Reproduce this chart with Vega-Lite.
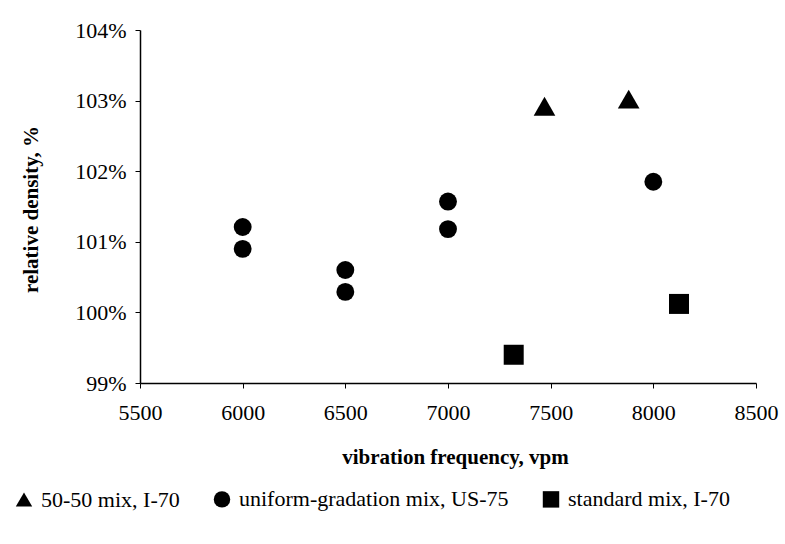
{
  "$schema": "https://vega.github.io/schema/vega-lite/v6.json",
  "width": 616,
  "height": 353,
  "autosize": "none",
  "padding": {"left": 140, "top": 30, "right": 29, "bottom": 161},
  "background": "white",
  "config": {
    "view": {"stroke": null},
    "font": "Liberation Serif"
  },
  "data": {
    "values": [
      {"series": "50-50 mix, I-70", "frequency": 7470, "density": 102.92},
      {"series": "50-50 mix, I-70", "frequency": 7880, "density": 103.02},
      {"series": "uniform-gradation mix, US-75", "frequency": 6000, "density": 101.21},
      {"series": "uniform-gradation mix, US-75", "frequency": 6000, "density": 100.9},
      {"series": "uniform-gradation mix, US-75", "frequency": 6500, "density": 100.6},
      {"series": "uniform-gradation mix, US-75", "frequency": 6500, "density": 100.29},
      {"series": "uniform-gradation mix, US-75", "frequency": 7000, "density": 101.57},
      {"series": "uniform-gradation mix, US-75", "frequency": 7000, "density": 101.18},
      {"series": "uniform-gradation mix, US-75", "frequency": 8000, "density": 101.85},
      {"series": "standard mix, I-70", "frequency": 7320, "density": 99.4},
      {"series": "standard mix, I-70", "frequency": 8125, "density": 100.12}
    ]
  },
  "encoding": {
    "x": {
      "field": "frequency",
      "type": "quantitative",
      "scale": {"domain": [5500, 8500], "nice": false, "zero": false},
      "axis": {
        "title": "vibration frequency, vpm",
        "values": [5500, 6000, 6500, 7000, 7500, 8000, 8500],
        "format": "d",
        "grid": false,
        "domainColor": "black",
        "domainWidth": 1.5,
        "tickColor": "black",
        "tickSize": 5,
        "labelFont": "Liberation Serif",
        "labelFontSize": 22,
        "labelColor": "black",
        "labelPadding": 14,
        "labelFlush": false,
        "titleFont": "Liberation Serif",
        "titleFontSize": 21,
        "titleFontWeight": "bold",
        "titleColor": "black",
        "titleX": 315,
        "titleY": 74,
        "titleBaseline": "middle"
      }
    },
    "y": {
      "field": "density",
      "type": "quantitative",
      "scale": {"domain": [99, 104], "nice": false, "zero": false},
      "axis": {
        "title": "relative density, %",
        "values": [99, 100, 101, 102, 103, 104],
        "labelExpr": "datum.value + '%'",
        "grid": false,
        "domainColor": "black",
        "domainWidth": 1.5,
        "tickColor": "black",
        "tickSize": 5,
        "labelFont": "Liberation Serif",
        "labelFontSize": 22,
        "labelColor": "black",
        "labelPadding": 9,
        "labelFlush": false,
        "titleFont": "Liberation Serif",
        "titleFontSize": 21,
        "titleFontWeight": "bold",
        "titleColor": "black",
        "titleX": -109,
        "titleY": 179,
        "titleBaseline": "middle",
        "titleAngle": -90
      }
    },
    "shape": {
      "field": "series",
      "type": "nominal",
      "scale": {
        "domain": ["50-50 mix, I-70", "uniform-gradation mix, US-75", "standard mix, I-70"],
        "range": ["triangle-up", "circle", "square"]
      },
      "legend": {
        "title": null,
        "orient": "none",
        "direction": "horizontal",
        "legendX": -127,
        "legendY": 458,
        "symbolFillColor": "black",
        "symbolStrokeColor": "black",
        "symbolSize": 270,
        "symbolOpacity": 1,
        "labelFont": "Liberation Serif",
        "labelFontSize": 22,
        "labelColor": "black",
        "labelOffset": 6,
        "labelLimit": 400,
        "columnPadding": 30
      }
    },
    "color": {"value": "black"}
  },
  "layer": [
    {
      "transform": [{"filter": "datum.series === '50-50 mix, I-70'"}],
      "mark": {"type": "point", "filled": true, "opacity": 1, "size": 470}
    },
    {
      "transform": [{"filter": "datum.series === 'uniform-gradation mix, US-75'"}],
      "mark": {"type": "point", "filled": true, "opacity": 1, "size": 320, "color": "#151515"}
    },
    {
      "transform": [{"filter": "datum.series === 'standard mix, I-70'"}],
      "mark": {"type": "point", "filled": true, "opacity": 1, "size": 400}
    }
  ]
}
